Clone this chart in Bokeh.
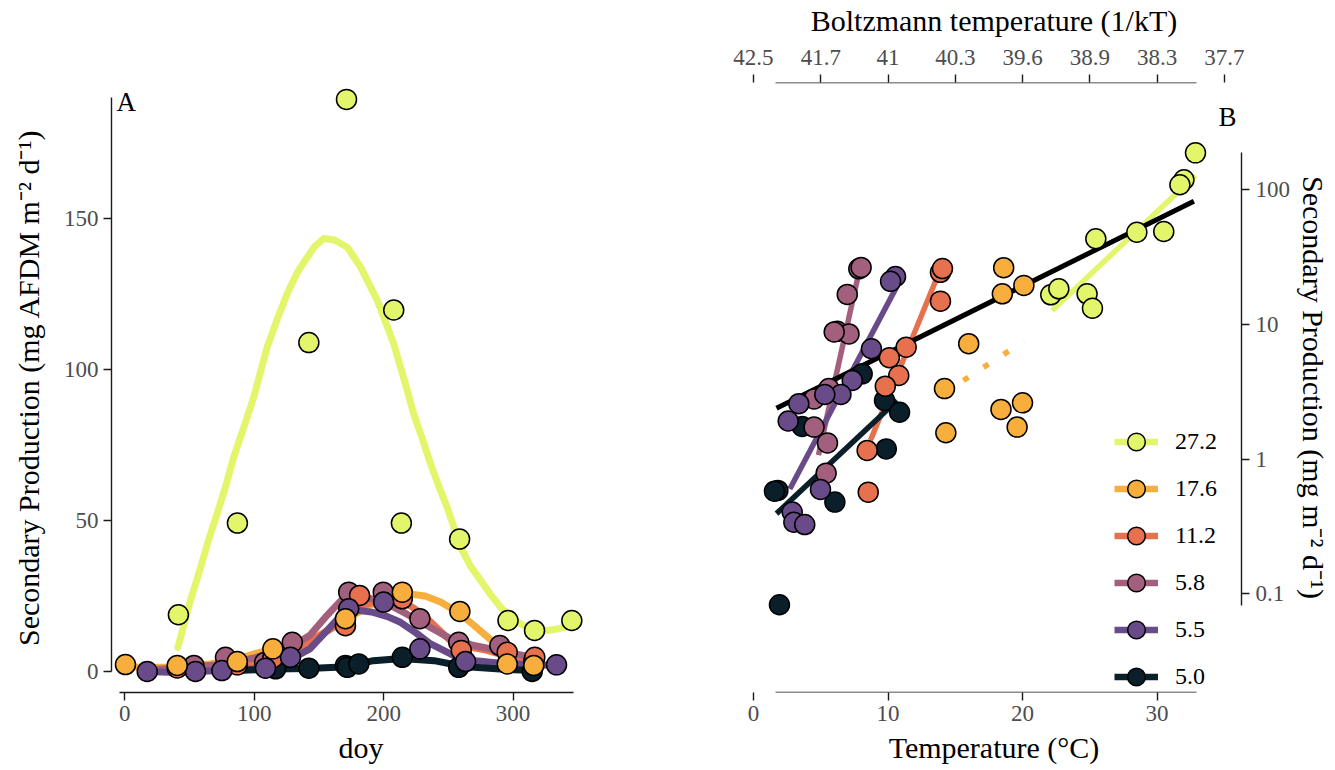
from bokeh.plotting import figure
from bokeh.layouts import row
from bokeh.models import (LinearAxis, FixedTicker, Range1d, Legend, LegendItem,
                          Label, CustomJSTickFormatter)
from bokeh.embed import file_html
from bokeh.resources import INLINE

SERIF = "Liberation Serif"
TICK_GREY = "#4d4d4d"
AXIS_DARK = "#1a1a1a"
NAN = float("nan")

# ---- streams (mean annual temperature labels) and colours ----
streams = ["27.2", "17.6", "11.2", "5.8", "5.5", "5.0"]
stream_colors = ["#E3F56A", "#F8AE3D", "#E7714F", "#A3607E", "#6A4B89", "#0B1F2B"]

# ---- panel A: secondary production by day of year ----
doy_s272 = [41.4, 87.0, 142.2, 171.3, 207.8, 213.7, 258.7, 296.1, 316.6, 345.4]
prod_s272 = [18.8, 49.2, 109.0, 189.6, 119.8, 49.2, 43.9, 16.9, 13.6, 16.9]
doy_s176 = [0.5, 40.5, 86.9, 114.4, 170.5, 214.4, 258.9, 295.5, 316.0]
prod_s176 = [2.3, 2.0, 3.3, 7.5, 17.5, 26.3, 19.9, 2.5, 2.0]
doy_s112 = [40.5, 87.0, 114.4, 170.5, 181.4, 214.4, 260.0, 295.5, 316.8]
prod_s112 = [1.2, 2.2, 4.5, 15.2, 25.2, 24.1, 7.0, 6.4, 4.7]
doy_s58 = [53.4, 77.8, 108.0, 129.4, 173.0, 199.7, 228.0, 258.0, 289.8, 316.0]
prod_s58 = [2.0, 4.7, 3.0, 9.7, 26.3, 26.3, 17.5, 9.7, 8.6, 3.5]
doy_s55 = [17.3, 54.6, 75.0, 108.7, 128.0, 173.0, 200.0, 228.0, 263.3, 333.6]
prod_s55 = [0.0, 0.0, 0.3, 1.1, 4.7, 20.8, 23.0, 7.5, 3.3, 2.2]
doy_s50 = [116.5, 142.2, 170.5, 171.9, 180.8, 214.4, 258.0, 314.8]
prod_s50 = [0.9, 1.1, 2.0, 1.4, 2.5, 4.7, 1.4, 0.0]

# smoothed seasonal curves
fit_doy_s272 = [41, 50, 58.5, 65, 71.4, 78, 84, 92, 99.5, 110, 118, 125.5, 133, 141, 147, 153.6,
                162, 171.9, 182.2, 195.1, 207.7, 218.3, 223.1, 230, 236.2, 243, 249.1, 259.5,
                267, 275, 283, 290.4, 298, 305.8, 313, 321.3, 328, 334.2, 345.8]
fit_prod_s272 = [8.0, 22.5, 34.5, 44.0, 52.4, 61.5, 70.9, 81.0, 90.8, 107.5, 117.0, 125.3,
                 132.0, 137.3, 141.0, 143.5, 143.0, 140.6, 134.0, 123.0, 108.7, 93.1, 85.5,
                 77.0, 68.9, 61.0, 54.4, 41.2, 35.0, 30.2, 25.3, 21.3, 18.2, 15.8, 14.3, 13.6,
                 13.7, 14.1, 15.2]
fit_doy_s176 = [0, 20, 40, 66, 87, 100, 115, 130, 150, 170, 190, 205, 218, 232, 244, 258, 270,
                285, 301, 316]
fit_prod_s176 = [1.6, 1.3, 1.5, 2.5, 4.0, 5.9, 7.5, 9.0, 12.0, 17.0, 22.0, 24.6, 25.8, 25.0,
                 23.0, 19.5, 15.2, 9.7, 3.6, 1.8]
fit_doy_s112 = [40, 87, 115, 140, 155, 170, 185, 200, 214, 225, 235, 252, 266, 280, 296, 316]
fit_prod_s112 = [0.5, 1.5, 4.0, 9.0, 13.0, 17.0, 22.0, 24.0, 23.5, 20.5, 17.0, 10.0, 8.2,
                 7.0, 5.0, 3.5]
fit_doy_s58 = [17, 53, 78, 100, 115, 128, 143, 155, 167, 177, 187, 205, 218, 231, 252, 268,
               283, 300, 317]
fit_prod_s58 = [0.5, 1.5, 2.5, 4.5, 6.2, 8.0, 12.0, 18.0, 23.5, 24.5, 24.6, 22.0, 19.0, 15.8,
                10.8, 8.8, 7.5, 6.0, 4.5]
fit_doy_s55 = [17, 40, 55, 75, 95, 109, 120, 128, 143, 156, 169, 180, 192, 203, 213, 225, 236,
               257, 271, 288, 310, 334]
fit_prod_s55 = [0.0, -0.3, 0.0, 0.3, 0.7, 1.2, 2.5, 4.0, 7.5, 13.5, 19.5, 20.3, 19.6, 18.2,
                16.3, 12.8, 9.2, 4.7, 3.6, 2.8, 2.3, 2.0]
fit_doy_s50 = [86, 116, 142, 172, 192, 214, 239, 258, 270, 290, 316]
fit_prod_s50 = [0.3, 0.8, 1.0, 1.6, 3.6, 4.3, 3.6, 2.0, 1.4, 0.8, 0.3]

# ---- panel B: secondary production vs. temperature ----
temp_s272 = [32.86, 32.0, 31.7, 28.5, 30.5, 25.45, 22.1, 22.7, 24.8, 25.2]
sp_s272 = [188, 118.7, 109, 48.4, 49, 43.3, 16.6, 18.4, 16.9, 13.2]
temp_s176 = [18.6, 18.5, 20.1, 16.0, 14.2, 14.3, 18.4, 20.0, 19.6]
sp_s176 = [26.4, 16.9, 19.5, 7.2, 3.34, 1.57, 2.34, 2.62, 1.73]
temp_s112 = [13.9, 14.05, 13.9, 11.35, 10.1, 10.8, 9.8, 8.45, 8.53]
sp_s112 = [24.4, 26.0, 14.9, 6.78, 5.66, 4.18, 3.48, 1.16, 0.569]
temp_s58 = [7.83, 8.0, 6.97, 6.23, 7.1, 6.0, 5.6, 4.5, 4.5, 5.5, 5.4]
sp_s58 = [25.9, 26.5, 16.7, 8.9, 8.5, 8.8, 3.34, 2.8, 1.73, 1.32, 0.787]
temp_s55 = [10.56, 10.19, 8.77, 7.34, 6.5, 5.3, 3.37, 2.58, 4.98, 2.88, 3.0, 3.81]
sp_s55 = [22.7, 20.9, 6.6, 3.84, 3.02, 3.02, 2.58, 1.92, 0.596, 0.405, 0.34, 0.327]
temp_s50 = [8.08, 9.74, 10.86, 9.87, 3.62, 1.81, 1.56, 6.05, 1.93]
sp_s50 = [4.3, 2.73, 2.23, 1.19, 1.75, 0.586, 0.578, 0.48, 0.083]

# fitted Arrhenius trends (end points)
trend_temp_s272 = [22.2, 32.86]
trend_sp_s272 = [12.7, 127.6]
trend_temp_s176 = [15.6, 20.1]
trend_sp_s176 = [3.84, 7.5]
trend_temp_s112 = [8.7, 13.65]
trend_sp_s112 = [1.38, 22.4]
trend_temp_s58 = [4.83, 7.73]
trend_sp_s58 = [1.07, 21.8]
trend_temp_s55 = [2.7, 10.7]
trend_sp_s55 = [0.6, 19.5]
trend_temp_s50 = [1.71, 10.68]
trend_sp_s50 = [0.394, 2.73]
trend_temp_all = [1.71, 32.74]
trend_sp_all = [2.39, 82.3]

# axis ticks
doy_ticks = [0, 100, 200, 300]
prod_ticks = [0, 50, 100, 150]
temp_ticks = [0, 10, 20, 30]
boltz_tick_temps = [0, 5, 10, 15, 20, 25, 30, 35]
boltz_tick_labels = ["42.5", "41.7", "41", "40.3", "39.6", "38.9", "38.3", "37.7"]
log_ticks = [0.1, 1, 10, 100]

a_points = [(doy_s272, prod_s272), (doy_s176, prod_s176), (doy_s112, prod_s112),
            (doy_s58, prod_s58), (doy_s55, prod_s55), (doy_s50, prod_s50)]
a_curves = [(fit_doy_s272, fit_prod_s272), (fit_doy_s176, fit_prod_s176),
            (fit_doy_s112, fit_prod_s112), (fit_doy_s58, fit_prod_s58),
            (fit_doy_s55, fit_prod_s55), (fit_doy_s50, fit_prod_s50)]
b_points = [(temp_s272, sp_s272), (temp_s176, sp_s176), (temp_s112, sp_s112),
            (temp_s58, sp_s58), (temp_s55, sp_s55), (temp_s50, sp_s50)]
b_trends = [(trend_temp_s272, trend_sp_s272), (trend_temp_s176, trend_sp_s176),
            (trend_temp_s112, trend_sp_s112), (trend_temp_s58, trend_sp_s58),
            (trend_temp_s55, trend_sp_s55), (trend_temp_s50, trend_sp_s50)]
# 17.6 trend is not significant -> dotted
b_trend_dash = ["solid", "6 18", "solid", "solid", "solid", "solid"]

# drawing order of points (bottom to top)
point_order = [5, 3, 2, 4, 1, 0]


def style_axis(ax):
    ax.axis_line_color = AXIS_DARK
    ax.axis_line_width = 1.4
    ax.major_tick_line_color = AXIS_DARK
    ax.major_tick_line_width = 1.4
    ax.major_tick_out = 8
    ax.major_tick_in = 0
    ax.minor_tick_out = 0
    ax.minor_tick_in = 0
    ax.major_label_text_font = SERIF
    ax.major_label_text_font_size = "23px"
    ax.major_label_text_color = TICK_GREY
    ax.major_label_standoff = 5
    ax.axis_label_text_font = SERIF
    ax.axis_label_text_font_size = "30px"
    ax.axis_label_text_font_style = "normal"
    ax.axis_label_text_color = "black"


def line_only_axis(bounds, loc):
    return LinearAxis(fixed_location=loc, bounds=bounds, ticker=FixedTicker(ticks=[]),
                      axis_line_color=AXIS_DARK, axis_line_width=1.4,
                      major_tick_out=0, major_tick_in=0, minor_tick_out=0, minor_tick_in=0,
                      major_label_text_font_size="0px")


# ================= panel A =================
pa = figure(frame_width=499, frame_height=610,
            x_range=Range1d(-10.3, 375.3), y_range=Range1d(-6.96, 195.2),
            min_border_left=111, min_border_right=10, min_border_top=82, min_border_bottom=78,
            output_backend="svg", toolbar_location=None)
pa.grid.visible = False
pa.outline_line_color = None
pa.background_fill_color = "white"

xa = pa.xaxis[0]
ya = pa.yaxis[0]
style_axis(xa)
style_axis(ya)
xa.ticker = FixedTicker(ticks=doy_ticks)
ya.ticker = FixedTicker(ticks=prod_ticks)
xa.bounds = (-4, 347)
ya.bounds = (0, 190.3)
xa.axis_label = "doy"
ya.axis_label = "Secondary Production (mg AFDM m\u207b\u00b2 d\u207b\u00b9)"
xa.axis_label_standoff = 7
ya.axis_label_standoff = 16

for (cx, cy), col in zip(a_curves, stream_colors):
    pa.line(cx, cy, line_color=col, line_width=7, line_join="round", line_cap="round")
for i in point_order:
    px, py = a_points[i]
    pa.scatter(px, py, size=20, fill_color=stream_colors[i], line_color="black", line_width=1.5)

pa.add_layout(Label(x=-6.4, y=188.9, text="A", text_font=SERIF, text_font_size="27px",
                    text_color="black", text_align="left", text_baseline="middle"))

# ================= panel B =================
pb = figure(frame_width=495, frame_height=610,
            x_range=Range1d(-0.52, 36.28), y_range=Range1d(0.01851, 626),
            y_axis_type="log", y_axis_location="right",
            min_border_left=126, min_border_right=0, min_border_top=82, min_border_bottom=78,
            output_backend="svg", toolbar_location=None)
pb.grid.visible = False
pb.outline_line_color = None

xb = pb.xaxis[0]
yb = pb.yaxis[0]
style_axis(xb)
style_axis(yb)
xb.ticker = FixedTicker(ticks=temp_ticks)
xb.axis_line_alpha = 0
xb.axis_label = "Temperature (\u00b0C)"
xb.axis_label_standoff = 7
yb.ticker = FixedTicker(ticks=log_ticks)
yb.formatter = CustomJSTickFormatter(code="return tick.toString()")
yb.bounds = (0.082, 190)
yb.major_label_standoff = 6
yb.axis_label = "Secondary Production (mg m\u207b\u00b2 d\u207b\u00b9)"
yb.axis_label_standoff = 4

top = LinearAxis(ticker=FixedTicker(ticks=boltz_tick_temps),
                 major_label_overrides={t: lab for t, lab in zip(boltz_tick_temps, boltz_tick_labels)},
                 axis_label="Boltzmann temperature (1/kT)")
style_axis(top)
top.axis_line_alpha = 0
top.major_label_standoff = 10
top.axis_label_standoff = 10
pb.add_layout(top, "above")

pb.add_layout(line_only_axis((1.66, 32.9), 0.01851), "below")
pb.add_layout(line_only_axis((1.66, 32.9), 626), "above")

for (tx, ty), col, dash in zip(b_trends, stream_colors, b_trend_dash):
    pb.line(tx, ty, line_color=col, line_width=5.5, line_dash=dash, line_cap="butt")
pb.line(trend_temp_all, trend_sp_all, line_color="black", line_width=5)

b_scatter = {}
for i in point_order:
    px, py = b_points[i]
    b_scatter[i] = pb.scatter(px, py, size=20, fill_color=stream_colors[i],
                              line_color="black", line_width=1.5)

items = []
for i, (lab, col) in enumerate(zip(streams, stream_colors)):
    key = pb.line([NAN, NAN], [NAN, NAN], line_color=col, line_width=6.5)
    items.append(LegendItem(label=lab, renderers=[key, b_scatter[i]]))

legend = Legend(items=items, location=(368, -8.2), orientation="vertical",
                glyph_width=44, glyph_height=47, spacing=0, padding=0, margin=0,
                label_standoff=17, label_text_font=SERIF, label_text_font_size="24px",
                label_text_color="black", background_fill_alpha=0, border_line_alpha=0)
pb.add_layout(legend)

pb.add_layout(Label(x=34.57, y=346.7, text="B", text_font=SERIF, text_font_size="27px",
                    text_color="black", text_align="left", text_baseline="middle"))

layout = row(pa, pb, spacing=0)
open("out.html", "w").write(file_html(layout, INLINE))
